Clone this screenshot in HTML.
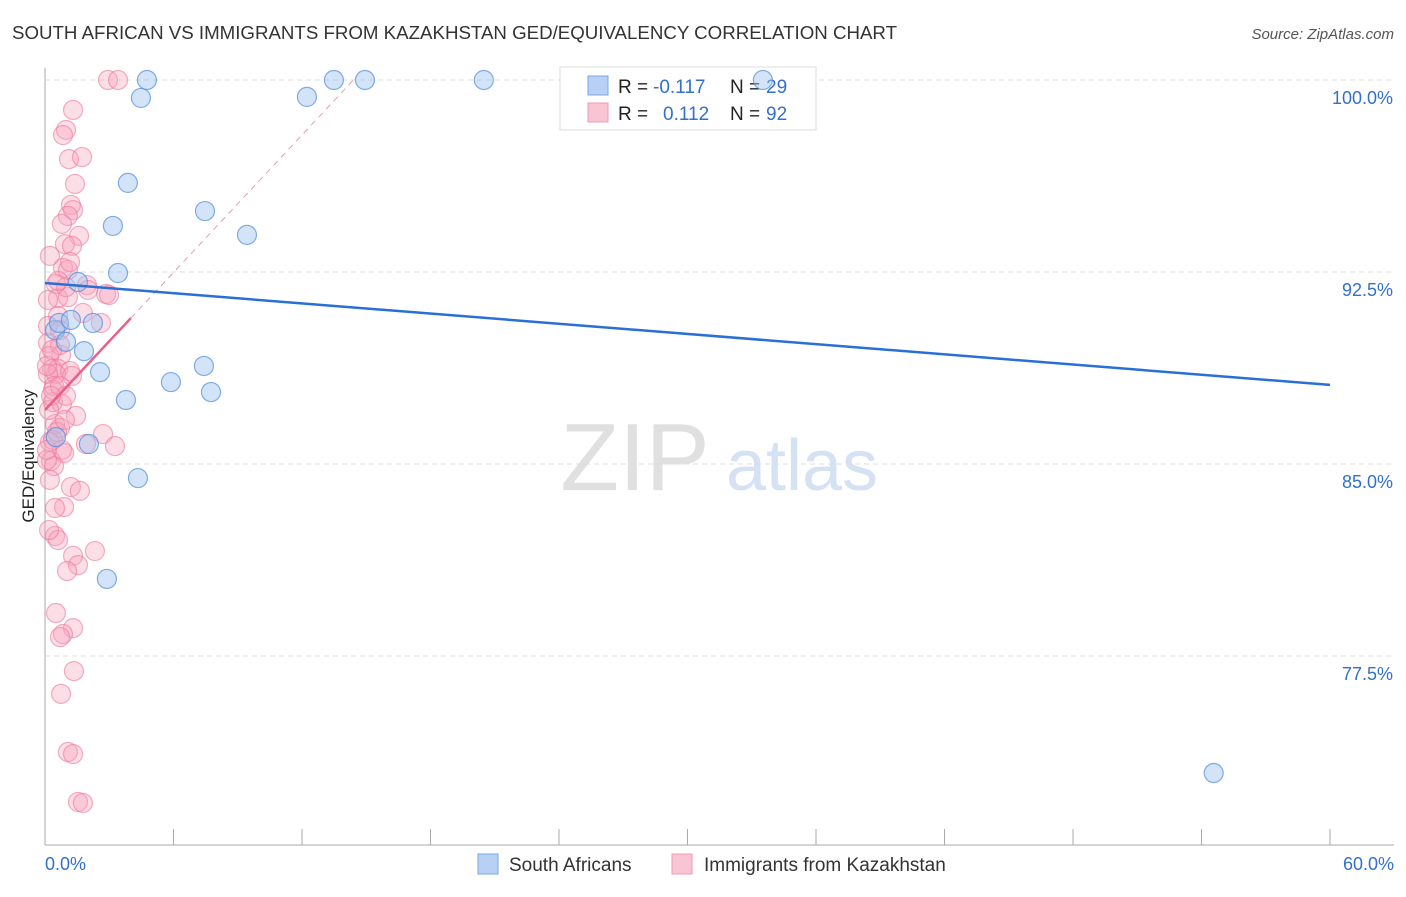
<!DOCTYPE html>
<html><head><meta charset="utf-8"><style>
body{margin:0;background:#fff;font-family:"Liberation Sans",sans-serif;}
svg text{font-family:"Liberation Sans",sans-serif;}
</style></head><body>
<svg id="chart" width="1406" height="892" viewBox="0 0 1406 892" xmlns="http://www.w3.org/2000/svg">
<text x="12" y="39" font-size="18.7" fill="#333">SOUTH AFRICAN VS IMMIGRANTS FROM KAZAKHSTAN GED/EQUIVALENCY CORRELATION CHART</text>
<text x="1394" y="39" font-size="15" fill="#555" text-anchor="end" font-style="italic">Source: ZipAtlas.com</text>
<g>
<text x="635" y="490" font-size="96" fill="#e0e0e0" text-anchor="middle" font-family="Liberation Serif">ZIP</text>
<text x="802" y="490" font-size="72" fill="#d4e2f4" text-anchor="middle">atlas</text>
</g>
<g id="grid"></g>
<g id="axes"></g>
<g>
<rect x="560" y="67" width="256" height="63" fill="#fff" stroke="#ddd"/>
<rect x="588" y="76" width="20" height="19" fill="#b7d0f3" stroke="#7ba7e3"/>
<rect x="588" y="103" width="20" height="19" fill="#f9c4d4" stroke="#f09ab5"/>
<text x="618" y="93" font-size="19" fill="#222">R = </text><text x="653" y="93" font-size="19" fill="#3370cc">-0.117</text>
<text x="730" y="93" font-size="19" fill="#222">N = </text><text x="766" y="93" font-size="19" fill="#3370cc">29</text>
<text x="618" y="120" font-size="19" fill="#222">R = </text><text x="663" y="120" font-size="19" fill="#3370cc">0.112</text>
<text x="730" y="120" font-size="19" fill="#222">N = </text><text x="766" y="120" font-size="19" fill="#3370cc">92</text>
</g>
<g id="marks"></g>
<text transform="translate(34,456) rotate(-90)" font-size="17" fill="#222" text-anchor="middle">GED/Equivalency</text>
<g>
<rect x="478" y="854" width="20" height="20" fill="#b7d0f3" stroke="#7ba7e3"/>
<text x="509" y="871" font-size="19" fill="#333">South Africans</text>
<rect x="672" y="854" width="20" height="20" fill="#f9c4d4" stroke="#f09ab5"/>
<text x="704" y="871" font-size="19" fill="#333">Immigrants from Kazakhstan</text>
</g>
</svg>
<script>
const yTicks=[100,92.5,85,77.5];
const yTickLabels=["100.0%","92.5%","85.0%","77.5%"];
const xTickLabels=["0.0%","60.0%"];
const blueX=[4.76,4.48,13.49,14.94,20.49,12.23,33.52,3.87,3.17,7.47,9.43,3.41,1.54,0.47,0.65,1.21,2.24,0.98,1.82,2.57,5.88,7.42,7.75,3.78,0.51,2.05,4.34,2.89,54.57];
const blueY=[100,99.3,100,100,100,99.34,100,95.98,94.3,94.88,93.95,92.46,92.11,90.23,90.51,90.63,90.51,89.77,89.41,88.59,88.2,88.83,87.81,87.5,86.05,85.78,84.45,80.51,72.93];
const pinkPx=[[108,80],[118,80],[73,110],[66,130],[63,135],[69,159],[82,157],[75,184],[71,205],[73,210],[68,216],[62,224],[79,236],[65,244],[50,256],[63,268],[68,270],[56,284],[87,285],[106,294],[58,298],[68,297],[83,313],[58,316],[101,323],[48,326],[60,330],[48,343],[61,355],[49,356],[52,369],[58,369],[70,371],[56,374],[48,374],[72,376],[54,386],[53,402],[62,404],[76,416],[55,424],[60,428],[50,442],[103,434],[115,446],[86,444],[64,453],[51,461],[54,466],[71,487],[80,491],[64,507],[55,536],[58,540],[73,556],[95,551],[78,565],[67,571],[56,613],[73,628],[63,634],[60,637],[74,671],[61,694],[68,752],[73,754],[78,802],[83,803],[53,440],[47,460],[50,480],[49,530],[62,450],[57,432],[49,410],[53,390],[60,386],[48,300],[66,287],[58,281],[72,246],[88,290],[109,295],[70,262],[60,345],[52,350],[47,366],[65,420],[47,450],[66,396],[55,508],[51,396]];
const pinkX=pinkPx.map(p=>+((p[0]-45)/21.417).toFixed(2));
const pinkY=pinkPx.map(p=>+(100-(p[1]-80)/25.6).toFixed(2));
const blueTrend=[[0,92.07],[60,88.09]];
const pinkTrend=[[0,87.11],[4.01,90.7]];
const pinkTrendExt=[[4.01,90.7],[14.4,100]];

const X=v=>45+v*1285/60;
const Y=v=>80+(100-v)*25.6;
const NS="http://www.w3.org/2000/svg";
function mk(parent,tag,attrs){const e=document.createElementNS(NS,tag);for(const k in attrs)e.setAttribute(k,attrs[k]);document.getElementById(parent).appendChild(e);return e;}
yTicks.forEach((t,i)=>{
  const l=mk('grid','line',{x1:45,x2:1394,y1:Y(t),y2:Y(t),stroke:'#ddd','stroke-dasharray':'5,4'});
  
  
  const tx=mk('axes','text',{x:1393,y:Y(t)+24,'font-size':18,fill:'#3370cc','text-anchor':'end'});
  tx.textContent=yTickLabels[i];
  
  
});
let a=mk('axes','line',{x1:45,x2:45,y1:68,y2:845,stroke:'#aaa'});


a=mk('axes','line',{x1:45,x2:1394,y1:845,y2:845,stroke:'#aaa'});


for(let k=0;k<=10;k++){
  const t=mk('axes','line',{x1:X(k*6),x2:X(k*6),y1:829,y2:845,stroke:'#aaa'});
  
  
}
[[0,'start',45],[60,'end',1394]].forEach((d,i)=>{
  const tx=mk('axes','text',{x:d[2],y:870,'font-size':18,fill:'#3370cc','text-anchor':d[1]});
  tx.textContent=xTickLabels[i];
  
  
});
pinkX.forEach((x,i)=>{
  const c=mk('marks','circle',{cx:X(x),cy:Y(pinkY[i]),r:9.5,fill:'rgba(246,160,186,0.35)',stroke:'rgba(238,120,156,0.6)','stroke-width':1.2});
  
  
});
blueX.forEach((x,i)=>{
  const c=mk('marks','circle',{cx:X(x),cy:Y(blueY[i]),r:9.5,fill:'rgba(160,196,240,0.45)',stroke:'rgba(80,140,220,0.7)','stroke-width':1.2});
  
  
});
let ln=mk('marks','line',{x1:X(pinkTrendExt[0][0]),y1:Y(pinkTrendExt[0][1]),x2:X(pinkTrendExt[1][0]),y2:Y(pinkTrendExt[1][1]),stroke:'#e99ab2','stroke-width':1,'stroke-dasharray':'6,5'});


ln=mk('marks','line',{x1:X(pinkTrend[0][0]),y1:Y(pinkTrend[0][1]),x2:X(pinkTrend[1][0]),y2:Y(pinkTrend[1][1]),stroke:'#e8608a','stroke-width':2.5});


ln=mk('marks','line',{x1:X(blueTrend[0][0]),y1:Y(blueTrend[0][1]),x2:X(blueTrend[1][0]),y2:Y(blueTrend[1][1]),stroke:'#2a6fd6','stroke-width':2.5});


</script>
</body></html>
